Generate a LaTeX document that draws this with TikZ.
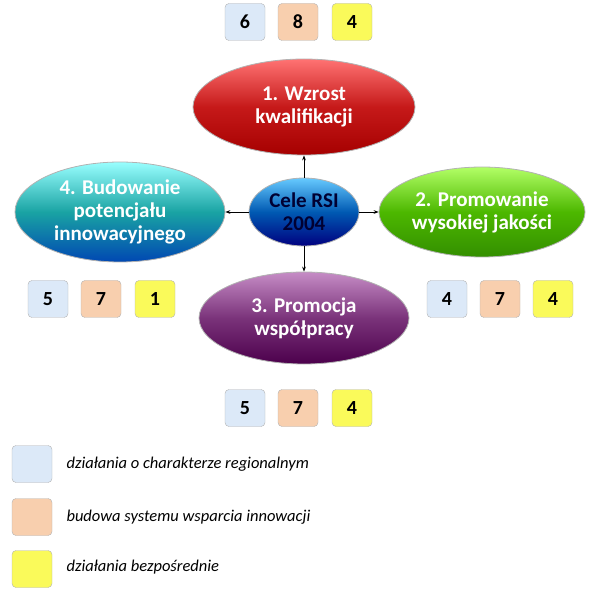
\documentclass[tikz,border=0pt]{standalone}
\usepackage{fontspec}
\setmainfont{Carlito}
\usetikzlibrary{shapes.geometric,arrows.meta}
\definecolor{cblue}{HTML}{DCE9F8}
\definecolor{corange}{HTML}{F8CFAE}
\definecolor{cyel}{HTML}{FAFA5A}
\begin{document}
\begin{tikzpicture}[x=1pt,y=-1pt,
 box/.style={draw=gray!60,rounded corners=4pt,minimum width=40pt,minimum height=37pt,font=\bfseries\fontsize{20}{20}\selectfont},
 el/.style={ellipse,draw=white!70!black,line width=0.8pt,text=white,align=center,font=\bfseries\fontsize{21}{23}\selectfont,inner sep=0pt},
 arr/.style={-{Stealth[length=5pt]},line width=0.9pt},
 leg/.style={anchor=west,font=\itshape\fontsize{16.5}{16.5}\selectfont}]
\useasboundingbox (0,0) rectangle (606,599);
\node[el,minimum width=222pt,minimum height=96pt,top color=red!55!white,bottom color=red!65!black,middle color=red!75!black!90] (r) at (304,107) {1. Wzrost\\kwalifikacji};
\node[el,minimum width=206pt,minimum height=90pt,top color=green!50!yellow!60!white,bottom color=green!45!black!80!yellow,middle color=green!60!black!70!yellow] (g) at (482,212) {2. Promowanie\\wysokiej jakości};
\node[el,minimum width=210pt,minimum height=92pt,top color=violet!45!white,bottom color=violet!60!black,middle color=violet!70!black!80] (p) at (304,318) {3. Promocja\\współpracy};
\node[el,minimum width=210pt,minimum height=100pt,top color=cyan!40!white,bottom color=cyan!40!blue!70!black,middle color=cyan!60!black!90] (c) at (120,212) {4. Budowanie\\potencjału\\innowacyjnego};
\node[el,minimum width=110pt,minimum height=68pt,top color=blue!35!cyan!60!white,bottom color=blue!50!black,middle color=blue!50!cyan!70!black,text=blue!20!black] (m) at (304,212) {Cele RSI\\2004};
\draw[arr] (m) -- (r);
\draw[arr] (m) -- (g);
\draw[arr] (m) -- (p);
\draw[arr] (m) -- (c);
\node[box,fill=cblue] (t1) at (245,22) {6};
\node[box,fill=corange] (t2) at (298,22) {8};
\node[box,fill=cyel] (t3) at (352,22) {4};
\node[box,fill=cblue] (l1) at (48,299) {5};
\node[box,fill=corange] (l2) at (101,299) {7};
\node[box,fill=cyel] (l3) at (155,299) {1};
\node[box,fill=cblue] (q1) at (447,299) {4};
\node[box,fill=corange] (q2) at (500,299) {7};
\node[box,fill=cyel] (q3) at (553,299) {4};
\node[box,fill=cblue] (b1) at (245,408) {5};
\node[box,fill=corange] (b2) at (298,408) {7};
\node[box,fill=cyel] (b3) at (352,408) {4};
\node[box,fill=cblue] (k1) at (32,464) {};
\node[box,fill=corange] (k2) at (32,517) {};
\node[box,fill=cyel] (k3) at (32,569) {};
\node[leg] (lt1) at (63,464) {działania o charakterze regionalnym};
\node[leg] (lt2) at (63,517) {budowa systemu wsparcia innowacji};
\node[leg] (lt3) at (63,567) {działania bezpośrednie};
\end{tikzpicture}
\end{document}
